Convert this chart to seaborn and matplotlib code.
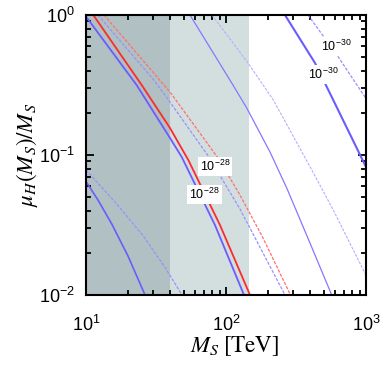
import pandas as pd
import seaborn as sns
import matplotlib.pyplot as plt
from matplotlib.ticker import FixedLocator, FixedFormatter, LogLocator, NullFormatter

# curve points: M_S [TeV] -> mu_H(M_S)/M_S
a_x = [10, 23.0, 39.8, 48.3, 83.4, 134.5]                 # 1e-28, blue solid
a_y = [0.976, 0.316, 0.1323, 0.0967, 0.0316, 0.01]
b_x = [11.28, 25.0, 39.8, 53.8, 90.6, 148.4]              # 1e-28, red solid
b_y = [1.0, 0.316, 0.156, 0.0921, 0.0316, 0.01]
c_x = [12.18, 30.1, 39.8, 75.6, 125.9, 263.9]             # 1e-28, blue dashed
c_y = [1.0, 0.349, 0.239, 0.0967, 0.0411, 0.01]
d_x = [13.45, 36.1, 39.8, 87.7, 125.9, 180.8, 289]        # 1e-28, red dashed
d_y = [1.0, 0.316, 0.282, 0.0952, 0.0518, 0.0264, 0.01]
e_x = [55.3, 112.2, 140.6, 206.3, 271.6, 398.1, 568.9]    # blue thin solid
e_y = [1.0, 0.316, 0.2168, 0.105, 0.0581, 0.0235, 0.01]
f_x = [79.4, 144.2, 217.8, 398.1, 583.6, 984, 1000]       # blue thin dashed
f_y = [1.0, 0.452, 0.247, 0.0825, 0.0405, 0.01428, 0.0139]
g_x = [263.9, 432.3, 583.6, 1000]                         # 1e-30, blue solid
g_y = [1.0, 0.454, 0.247, 0.0821]
h_x = [385.3, 620.6, 1000]                                # 1e-30, blue dashed
h_y = [1.0, 0.518, 0.253]
i_x = [10, 12.18, 15.27, 19.95, 26.4]                     # lower left, blue solid
i_y = [0.0647, 0.0477, 0.0322, 0.019, 0.01]
j_x = [10, 16.1, 25.5, 36.6, 48.5]                        # lower left, blue dashed
j_y = [0.0781, 0.0462, 0.0266, 0.0158, 0.01]

dark_band = (10, 40)
light_band = (40, 145)

x_ticks = [10, 100, 1000]
x_ticklabels = [r"$10^{1}$", r"$10^{2}$", r"$10^{3}$"]
y_ticks = [0.01, 0.1, 1]
y_ticklabels = [r"$10^{-2}$", r"$10^{-1}$", r"$10^{0}$"]

curves = {"a": (a_x, a_y), "b": (b_x, b_y), "c": (c_x, c_y), "d": (d_x, d_y),
          "e": (e_x, e_y), "f": (f_x, f_y), "g": (g_x, g_y), "h": (h_x, h_y),
          "i": (i_x, i_y), "j": (j_x, j_y)}
rows = []
for name, (xs, ys) in curves.items():
    for x, y in zip(xs, ys):
        rows.append({"curve": name, "M": x, "mu": y})
df = pd.DataFrame(rows)

blue = "#6a5cff"
blue_l = "#9990ff"
red = "#ff2a2a"
red_l = "#ff6e6e"
dash = (0, (2.5, 1.2))
styles = {
    "a": dict(color=blue, lw=1.3, ls="-"),
    "b": dict(color=red, lw=1.3, ls="-"),
    "c": dict(color=blue_l, lw=0.9, ls=dash),
    "d": dict(color=red_l, lw=0.9, ls=dash),
    "e": dict(color="#8478ff", lw=0.9, ls="-"),
    "f": dict(color="#b4aeff", lw=0.8, ls=dash),
    "g": dict(color=blue, lw=1.5, ls="-"),
    "h": dict(color=blue_l, lw=0.9, ls=dash),
    "i": dict(color=blue, lw=1.2, ls="-"),
    "j": dict(color=blue_l, lw=0.9, ls=dash),
}

# sans maths for the numbers, stix for the axis labels
plt.rcParams["font.family"] = ["Liberation Sans", "DejaVu Sans"]
plt.rcParams["mathtext.fontset"] = "custom"
plt.rcParams["mathtext.rm"] = "Liberation Sans"
plt.rcParams["mathtext.it"] = "Liberation Sans:italic"
plt.rcParams["mathtext.bf"] = "Liberation Sans:bold"

fig = plt.figure(figsize=(3.81, 3.68), dpi=100)
ax = fig.add_axes([0.2257, 0.1984, 0.7349, 0.7608])

ax.axvspan(*dark_band, color="#b1c0c2", lw=0, zorder=0)
ax.axvspan(*light_band, color="#d3dedf", lw=0, zorder=0)

for name, st in styles.items():
    sub = df[df["curve"] == name]
    sns.lineplot(data=sub, x="M", y="mu", sort=False, ax=ax, color=st["color"],
                 linewidth=st["lw"], linestyle=st["ls"], estimator=None)

ax.set_xscale("log")
ax.set_yscale("log")
ax.set_xlim(10, 1000)
ax.set_ylim(0.01, 1)

ax.xaxis.set_major_locator(FixedLocator(x_ticks))
ax.xaxis.set_major_formatter(FixedFormatter(x_ticklabels))
ax.yaxis.set_major_locator(FixedLocator(y_ticks))
ax.yaxis.set_major_formatter(FixedFormatter(y_ticklabels))
for axis in (ax.xaxis, ax.yaxis):
    axis.set_minor_locator(LogLocator(base=10, subs=range(2, 10)))
    axis.set_minor_formatter(NullFormatter())
ax.tick_params(which="both", direction="in", top=True, right=True, width=1.3)
ax.tick_params(which="major", length=6, labelsize=13)
ax.tick_params(which="minor", length=3.5)
ax.tick_params(axis="x", which="major", pad=14)
ax.tick_params(axis="y", which="major", pad=8)
for sp in ax.spines.values():
    sp.set_linewidth(1.5)

ax.set_xlabel(r"$M_S\;[\mathrm{TeV}]$", fontsize=16.5, math_fontfamily="stix")
ax.xaxis.set_label_coords(0.532, -0.14)
ax.set_ylabel(r"$\mu_H(M_S)/M_S$", fontsize=16.5, math_fontfamily="stix")
ax.yaxis.set_label_coords(-0.165, 0.5)

box = dict(facecolor="white", edgecolor="none", pad=1.5)
ax.text(83.4, 0.0828, r"$10^{-28}$", fontsize=9, ha="center", va="center", bbox=box)
ax.text(70.2, 0.0522, r"$10^{-28}$", fontsize=9, ha="center", va="center", bbox=box)
ax.text(610, 0.596, r"$10^{-30}$", fontsize=9, ha="center", va="center", bbox=box)
ax.text(493, 0.376, r"$10^{-30}$", fontsize=9, ha="center", va="center", bbox=box)

fig.savefig("out.png", dpi=100)
